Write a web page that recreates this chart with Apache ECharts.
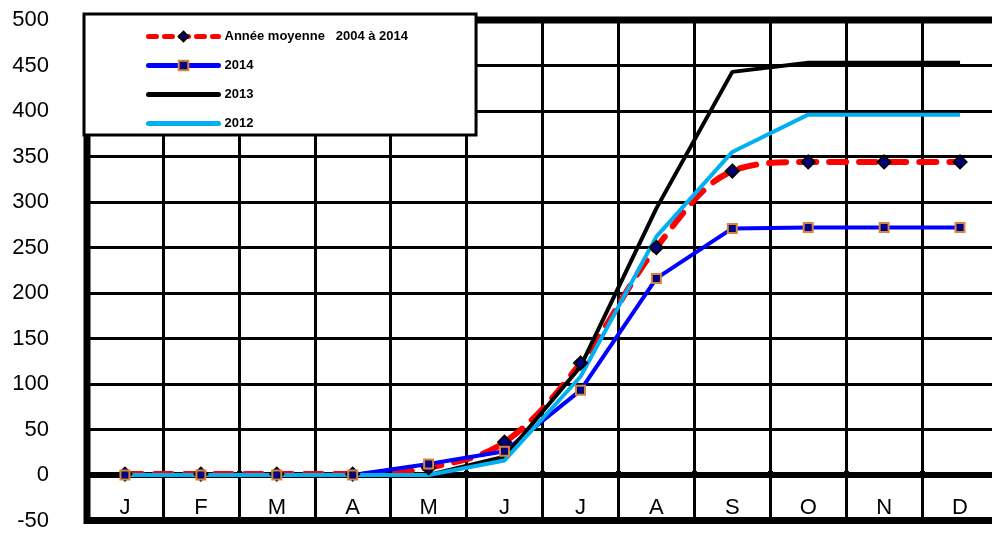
<!DOCTYPE html>
<html>
<head>
<meta charset="utf-8">
<script src="https://cdn.jsdelivr.net/npm/echarts@6/dist/echarts.min.js"></script>
<style>
  html, body { margin: 0; padding: 0; background: #fff; }
  #chart { width: 992px; height: 533px; }
</style>
</head>
<body>
<div id="chart"></div>
<script>
// mois
const months = ['J', 'F', 'M', 'A', 'M', 'J', 'J', 'A', 'S', 'O', 'N', 'D']

// valeurs cumulées
const moyenne = [1, 1, 1, 1, 8, 36, 123, 250, 334, 344, 344, 344]
const an2014 = [0, 0, 0, 0, 12, 26, 93, 216, 271, 272, 272, 272]
const an2013 = [0, 0, 0, 0, 0, 20, 119, 293, 443, 453, 453, 453]
const an2012 = [0, 0, 0, 0, 0, 16, 108, 262, 355, 396, 396, 396]

const seriesNames = ['Année moyenne   2004 à 2014', '2014', '2013', '2012']

const yMin = -50
const yMax = 500
const yStep = 50

const font = 'Arial, "Liberation Sans", sans-serif'

const chart = echarts.init(document.getElementById('chart'))
chart.setOption({
  animation: false,
  backgroundColor: '#fff',
  grid: {
    left: 87, right: -6, top: 20, bottom: 12.5,
    outerBoundsMode: 'none',
    show: true, borderColor: '#000', borderWidth: 7, backgroundColor: '#fff'
  },
  legend: {
    orient: 'vertical',
    left: 84, top: 14,
    padding: [16, 68, 5, 62],
    itemWidth: 70, itemHeight: 12, itemGap: 16,
    backgroundColor: '#fff',
    borderColor: '#000', borderWidth: 3,
    lineStyle: { width: 5, cap: 'round' },
    data: [
      { name: seriesNames[0], lineStyle: { type: [8, 8] } },
      { name: seriesNames[1] },
      { name: seriesNames[2], itemStyle: { opacity: 0 } },
      { name: seriesNames[3], itemStyle: { opacity: 0 } }
    ],
    textStyle: { fontFamily: font, fontSize: 13, fontWeight: 'bold', color: '#000', padding: [0, 0, 0, 1] }
  },
  xAxis: {
    type: 'category',
    data: months,
    boundaryGap: true,
    axisLine: { onZero: true, lineStyle: { color: '#000', width: 6 } },
    axisTick: { show: true, inside: true, length: 4, lineStyle: { color: '#000', width: 5 } },
    axisLabel: { fontFamily: font, fontSize: 22, color: '#000', margin: -24, interval: 0 },
    splitLine: { show: true, interval: 0, lineStyle: { color: '#000', width: 3 } }
  },
  yAxis: {
    type: 'value',
    min: yMin, max: yMax, interval: yStep,
    axisLine: { show: false },
    axisTick: { show: true, inside: true, length: 5, lineStyle: { color: '#000', width: 3 } },
    axisLabel: { fontFamily: font, fontSize: 22, color: '#000', margin: 38 },
    splitLine: { show: true, lineStyle: { color: '#000', width: 3 } }
  },
  series: [
    {
      name: seriesNames[0],
      type: 'line',
      data: moyenne,
      smooth: 0.35,
      symbol: 'diamond',
      symbolSize: 13,
      itemStyle: { color: '#000080', borderColor: '#000', borderWidth: 2 },
      lineStyle: { color: '#ff0000', width: 6, type: [17, 13], cap: 'round' }
    },
    {
      name: seriesNames[1],
      type: 'line',
      data: an2014,
      symbol: 'rect',
      symbolSize: 9,
      itemStyle: { color: '#000080', borderColor: '#d8853c', borderWidth: 2 },
      lineStyle: { color: '#0000ff', width: 4 }
    },
    {
      name: seriesNames[2],
      type: 'line',
      data: an2013,
      symbol: 'none',
      itemStyle: { color: '#000' },
      lineStyle: { color: '#000', width: 4 }
    },
    {
      name: seriesNames[3],
      type: 'line',
      data: an2012,
      symbol: 'none',
      itemStyle: { color: '#00b0f0' },
      lineStyle: { color: '#00b0f0', width: 4 }
    }
  ]
})
</script>
</body>
</html>
